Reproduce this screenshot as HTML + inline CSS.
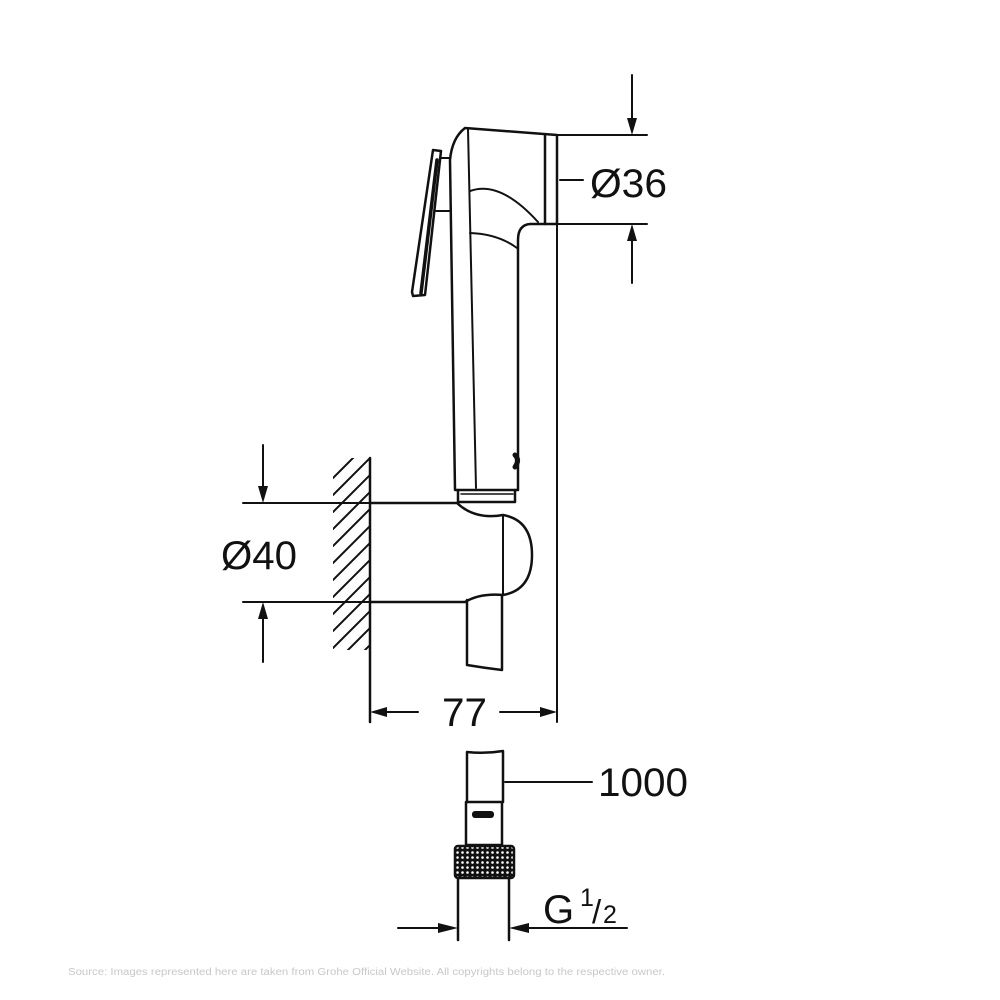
<!DOCTYPE html>
<html><head><meta charset="utf-8"><style>
html,body{margin:0;padding:0;background:#fff;}
svg{display:block;}
text{font-family:"Liberation Sans",sans-serif;fill:#111;}
</style></head><body>
<svg width="1000" height="1000" viewBox="0 0 1000 1000" xmlns="http://www.w3.org/2000/svg">
<defs>
<clipPath id="hc"><rect x="333" y="458" width="37" height="192"/></clipPath>
<pattern id="knurl" width="5" height="5" patternUnits="userSpaceOnUse">
<rect width="5" height="5" fill="#111"/><circle cx="2.5" cy="2.5" r="1.3" fill="#fff"/>
</pattern>
</defs>
<g fill="none" stroke="#111" stroke-width="2.5" stroke-linejoin="round" stroke-linecap="round">
<!-- lever -->
<path d="M433 150 L441 151 L425 295 L413 296 L412 292 Z" stroke-width="2.5"/>
<path d="M437 160 L421 293" stroke-width="3.5"/>
<line x1="441" y1="158" x2="450" y2="158" stroke-width="2"/>
<line x1="436" y1="211" x2="450" y2="211" stroke-width="2"/>
<!-- handset -->
<path d="M465 128 L557 135 L557 224 L530 224 Q518 225 518 240 L518 490 L455 490 L450 160 Q452 138 465 128 Z"/>
<line x1="545" y1="135" x2="545" y2="224" stroke-width="2.5"/>
<line x1="468" y1="129" x2="476" y2="488" stroke-width="2"/>
<path d="M470 191 Q500 180 538 222" stroke-width="2"/>
<path d="M470 233 Q498 234 517 248" stroke-width="2"/>
<path d="M515 455 q5 5 0 12" stroke-width="5"/>
<!-- collar -->
<path d="M458 490 L458 502 L515 502 L515 490" stroke-width="2.5"/>
<line x1="461" y1="494" x2="513" y2="494" stroke-width="1.5"/>
<!-- bracket -->
<path d="M370 503 L457 503 Q475 520 503 515 Q532 520 532 555 Q532 590 503 595 Q480 593 465 602 L370 602"/>
<line x1="503" y1="515" x2="503" y2="595" stroke-width="2"/>
<path d="M467 600 L467 665 Q485 668 502 670 L502 595"/>
<!-- wall -->
<line x1="370" y1="458" x2="370" y2="722" stroke-width="2.5"/>
<g clip-path="url(#hc)" stroke-width="2">
<line x1="333" y1="478" x2="373" y2="438"/><line x1="333" y1="495" x2="373" y2="455"/>
<line x1="333" y1="512" x2="373" y2="472"/><line x1="333" y1="529" x2="373" y2="489"/>
<line x1="333" y1="546" x2="373" y2="506"/><line x1="333" y1="563" x2="373" y2="523"/>
<line x1="333" y1="580" x2="373" y2="540"/><line x1="333" y1="597" x2="373" y2="557"/>
<line x1="333" y1="614" x2="373" y2="574"/><line x1="333" y1="631" x2="373" y2="591"/>
<line x1="333" y1="648" x2="373" y2="608"/><line x1="333" y1="665" x2="373" y2="625"/>
<line x1="333" y1="682" x2="373" y2="642"/>
</g>
<!-- dimension lines -->
<g stroke-width="2">
<line x1="557" y1="224" x2="557" y2="722"/>
<line x1="557" y1="135" x2="647" y2="135"/>
<line x1="557" y1="224" x2="647" y2="224"/>
<line x1="632" y1="75" x2="632" y2="120"/>
<line x1="632" y1="240" x2="632" y2="283"/>
<line x1="560" y1="180" x2="583" y2="180"/>
<line x1="243" y1="503" x2="370" y2="503"/>
<line x1="243" y1="602" x2="370" y2="602"/>
<line x1="263" y1="445" x2="263" y2="488"/>
<line x1="263" y1="618" x2="263" y2="662"/>
<line x1="385" y1="712" x2="418" y2="712"/>
<line x1="500" y1="712" x2="542" y2="712"/>
<line x1="505" y1="782" x2="592" y2="782"/>
<line x1="398" y1="928" x2="440" y2="928"/>
<line x1="525" y1="928" x2="627" y2="928"/>
</g>
<!-- lower hose -->
<path d="M467 802 L467 752 Q485 754 503 751 L503 802"/>
<path d="M466 802 L502 802 L502 845 L466 845 Z"/>
<line x1="458" y1="878" x2="458" y2="940"/>
<line x1="509" y1="878" x2="509" y2="940"/>
</g>
<rect x="455" y="846" width="59" height="32" rx="3" fill="url(#knurl)" stroke="#111" stroke-width="2.5"/>
<rect x="472" y="811" width="22" height="7" rx="3" fill="#111"/>
<!-- arrowheads -->
<g fill="#111">
<polygon points="627,118 637,118 632,135"/>
<polygon points="627,241 637,241 632,224"/>
<polygon points="258,486 268,486 263,503"/>
<polygon points="258,619 268,619 263,602"/>
<polygon points="370,712 387,707 387,717"/>
<polygon points="557,712 540,707 540,717"/>
<polygon points="458,928 438,923 438,933"/>
<polygon points="509,928 529,923 529,933"/>
</g>
<text x="590" y="197" font-size="40" textLength="77" lengthAdjust="spacingAndGlyphs">Ø36</text>
<text x="221" y="569" font-size="40" textLength="76" lengthAdjust="spacingAndGlyphs">Ø40</text>
<text x="442" y="726" font-size="40" textLength="45" lengthAdjust="spacingAndGlyphs">77</text>
<text x="598" y="796" font-size="40" textLength="90" lengthAdjust="spacingAndGlyphs">1000</text>
<text x="543" y="923" font-size="40">G</text>
<text x="580" y="906" font-size="25">1</text>
<text x="592" y="923" font-size="33">/</text>
<text x="603" y="923" font-size="25">2</text>
<text x="68" y="975" font-size="10" textLength="597" lengthAdjust="spacingAndGlyphs" style="fill:#c8c8c8">Source: Images represented here are taken from Grohe Official Website. All copyrights belong to the respective owner.</text>
</svg>
</body></html>
